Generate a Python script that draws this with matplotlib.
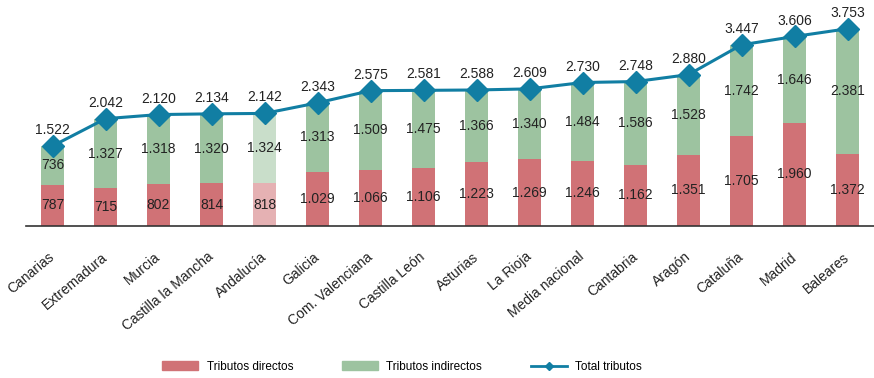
import matplotlib
matplotlib.use("Agg")
import matplotlib.pyplot as plt
from matplotlib.lines import Line2D
from matplotlib.patches import Patch
import matplotlib.transforms as mtransforms

plt.rcParams['font.family'] = ['Liberation Sans', 'DejaVu Sans']

categories = ["Canarias", "Extremadura", "Murcia", "Castilla la Mancha", "Andalucía",
              "Galicia", "Com. Valenciana", "Castilla León", "Asturias", "La Rioja",
              "Media nacional", "Cantabria", "Aragón", "Cataluña", "Madrid", "Baleares"]
directos = [787, 715, 802, 814, 818, 1029, 1066, 1106, 1223, 1269, 1246, 1162, 1351, 1705, 1960, 1372]
indirectos = [736, 1327, 1318, 1320, 1324, 1313, 1509, 1475, 1366, 1340, 1484, 1586, 1528, 1742, 1646, 2381]
totales = [1522, 2042, 2120, 2134, 2142, 2343, 2575, 2581, 2588, 2609, 2730, 2748, 2880, 3447, 3606, 3753]
highlight = "Andalucía"

RED = "#D07276"
GREEN = "#9DC3A0"
BLUE = "#117EA3"

def fmt(v):
    return f"{v:,}".replace(",", ".")

fig = plt.figure(figsize=(8.74, 3.78), dpi=100)
ax = fig.add_axes([26/874, 152/378, 848/874, 226/378])
x = list(range(len(categories)))
w = 0.42
for i, c in enumerate(categories):
    a = 0.55 if c == highlight else 1.0
    ax.bar(i, directos[i], w, color=RED, alpha=a, edgecolor='none')
    ax.bar(i, indirectos[i], w, bottom=directos[i], color=GREEN, alpha=a, edgecolor='none')
    ax.text(i, directos[i]/2, fmt(directos[i]), ha='center', va='center', fontsize=10, color='#222222')
    ax.text(i, directos[i] + indirectos[i]/2, fmt(indirectos[i]), ha='center', va='center', fontsize=10, color='#222222')
    ax.annotate(fmt(totales[i]), (i, totales[i]), xytext=(0, 11.5), textcoords='offset points',
                ha='center', va='center', fontsize=10, color='#222222')

ax.plot(x, totales, color=BLUE, lw=2.2, marker='D', ms=11, zorder=5)

ax.set_xlim(-0.5, len(categories) - 0.5)
ax.set_ylim(0, 4300)
for s in ['top', 'right', 'left']:
    ax.spines[s].set_visible(False)
ax.spines['bottom'].set_color('#333333')
ax.spines['bottom'].set_linewidth(1.2)
ax.set_yticks([])
ax.set_xticks(x)
labels = ax.set_xticklabels(categories, rotation=40, ha='right', va='center', rotation_mode='anchor',
                            fontsize=10, color='#222222')
ax.tick_params(axis='x', length=0, pad=21)

handles = [Patch(color=RED, label='Tributos directos'),
           Patch(color=GREEN, label='Tributos indirectos'),
           Line2D([0], [0], color=BLUE, lw=2, marker='D', ms=4, label='Total tributos')]
fig.legend(handles=handles, loc='center', bbox_to_anchor=(0.46, 0.029), ncol=3, frameon=False,
           fontsize=8.5, handlelength=3.05, handleheight=0.8, handletextpad=0.75, columnspacing=4.1)

fig.savefig("out.png", dpi=100)
